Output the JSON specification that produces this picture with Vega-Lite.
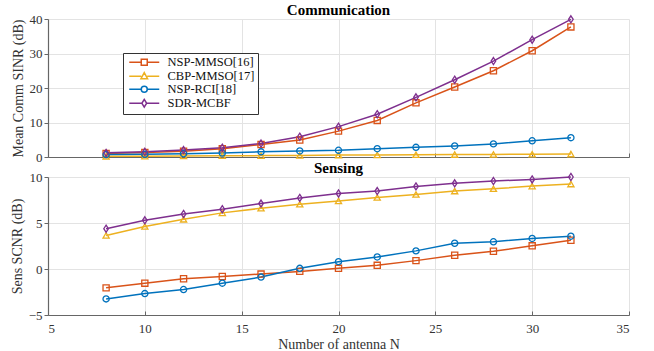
{
  "$schema": "https://vega.github.io/schema/vega-lite/v6.json",
  "padding": {"left": 10, "top": 3, "right": 5, "bottom": 0},
  "spacing": -4,
  "datasets": {
    "comm": [
      {"method": "NSP-MMSO[16]", "N": 8, "v": 1.0}, {"method": "NSP-MMSO[16]", "N": 10, "v": 1.3}, {"method": "NSP-MMSO[16]", "N": 12, "v": 1.7}, {"method": "NSP-MMSO[16]", "N": 14, "v": 2.4}, {"method": "NSP-MMSO[16]", "N": 16, "v": 3.6}, {"method": "NSP-MMSO[16]", "N": 18, "v": 4.9}, {"method": "NSP-MMSO[16]", "N": 20, "v": 7.5}, {"method": "NSP-MMSO[16]", "N": 22, "v": 10.6}, {"method": "NSP-MMSO[16]", "N": 24, "v": 15.7}, {"method": "NSP-MMSO[16]", "N": 26, "v": 20.3}, {"method": "NSP-MMSO[16]", "N": 28, "v": 25.0}, {"method": "NSP-MMSO[16]", "N": 30, "v": 30.8}, {"method": "NSP-MMSO[16]", "N": 32, "v": 37.7},
      {"method": "CBP-MMSO[17]", "N": 8, "v": 0.2}, {"method": "CBP-MMSO[17]", "N": 10, "v": 0.25}, {"method": "CBP-MMSO[17]", "N": 12, "v": 0.3}, {"method": "CBP-MMSO[17]", "N": 14, "v": 0.35}, {"method": "CBP-MMSO[17]", "N": 16, "v": 0.4}, {"method": "CBP-MMSO[17]", "N": 18, "v": 0.45}, {"method": "CBP-MMSO[17]", "N": 20, "v": 0.55}, {"method": "CBP-MMSO[17]", "N": 22, "v": 0.6}, {"method": "CBP-MMSO[17]", "N": 24, "v": 0.65}, {"method": "CBP-MMSO[17]", "N": 26, "v": 0.7}, {"method": "CBP-MMSO[17]", "N": 28, "v": 0.75}, {"method": "CBP-MMSO[17]", "N": 30, "v": 0.8}, {"method": "CBP-MMSO[17]", "N": 32, "v": 0.85},
      {"method": "NSP-RCI[18]", "N": 8, "v": 0.7}, {"method": "NSP-RCI[18]", "N": 10, "v": 0.8}, {"method": "NSP-RCI[18]", "N": 12, "v": 0.95}, {"method": "NSP-RCI[18]", "N": 14, "v": 1.15}, {"method": "NSP-RCI[18]", "N": 16, "v": 1.5}, {"method": "NSP-RCI[18]", "N": 18, "v": 1.75}, {"method": "NSP-RCI[18]", "N": 20, "v": 1.95}, {"method": "NSP-RCI[18]", "N": 22, "v": 2.4}, {"method": "NSP-RCI[18]", "N": 24, "v": 2.8}, {"method": "NSP-RCI[18]", "N": 26, "v": 3.2}, {"method": "NSP-RCI[18]", "N": 28, "v": 3.8}, {"method": "NSP-RCI[18]", "N": 30, "v": 4.7}, {"method": "NSP-RCI[18]", "N": 32, "v": 5.6},
      {"method": "SDR-MCBF", "N": 8, "v": 1.2}, {"method": "SDR-MCBF", "N": 10, "v": 1.5}, {"method": "SDR-MCBF", "N": 12, "v": 2.0}, {"method": "SDR-MCBF", "N": 14, "v": 2.7}, {"method": "SDR-MCBF", "N": 16, "v": 3.9}, {"method": "SDR-MCBF", "N": 18, "v": 5.9}, {"method": "SDR-MCBF", "N": 20, "v": 8.8}, {"method": "SDR-MCBF", "N": 22, "v": 12.4}, {"method": "SDR-MCBF", "N": 24, "v": 17.3}, {"method": "SDR-MCBF", "N": 26, "v": 22.4}, {"method": "SDR-MCBF", "N": 28, "v": 27.8}, {"method": "SDR-MCBF", "N": 30, "v": 34.0}, {"method": "SDR-MCBF", "N": 32, "v": 39.9}
    ],
    "sens": [
      {"method": "NSP-MMSO[16]", "N": 8, "v": -2.05}, {"method": "NSP-MMSO[16]", "N": 10, "v": -1.54}, {"method": "NSP-MMSO[16]", "N": 12, "v": -1.06}, {"method": "NSP-MMSO[16]", "N": 14, "v": -0.81}, {"method": "NSP-MMSO[16]", "N": 16, "v": -0.55}, {"method": "NSP-MMSO[16]", "N": 18, "v": -0.26}, {"method": "NSP-MMSO[16]", "N": 20, "v": 0.07}, {"method": "NSP-MMSO[16]", "N": 22, "v": 0.4}, {"method": "NSP-MMSO[16]", "N": 24, "v": 0.91}, {"method": "NSP-MMSO[16]", "N": 26, "v": 1.49}, {"method": "NSP-MMSO[16]", "N": 28, "v": 1.93}, {"method": "NSP-MMSO[16]", "N": 30, "v": 2.52}, {"method": "NSP-MMSO[16]", "N": 32, "v": 3.13},
      {"method": "CBP-MMSO[17]", "N": 8, "v": 3.65}, {"method": "CBP-MMSO[17]", "N": 10, "v": 4.63}, {"method": "CBP-MMSO[17]", "N": 12, "v": 5.4}, {"method": "CBP-MMSO[17]", "N": 14, "v": 6.1}, {"method": "CBP-MMSO[17]", "N": 16, "v": 6.6}, {"method": "CBP-MMSO[17]", "N": 18, "v": 7.04}, {"method": "CBP-MMSO[17]", "N": 20, "v": 7.4}, {"method": "CBP-MMSO[17]", "N": 22, "v": 7.77}, {"method": "CBP-MMSO[17]", "N": 24, "v": 8.1}, {"method": "CBP-MMSO[17]", "N": 26, "v": 8.47}, {"method": "CBP-MMSO[17]", "N": 28, "v": 8.72}, {"method": "CBP-MMSO[17]", "N": 30, "v": 9.01}, {"method": "CBP-MMSO[17]", "N": 32, "v": 9.23},
      {"method": "NSP-RCI[18]", "N": 8, "v": -3.25}, {"method": "NSP-RCI[18]", "N": 10, "v": -2.67}, {"method": "NSP-RCI[18]", "N": 12, "v": -2.23}, {"method": "NSP-RCI[18]", "N": 14, "v": -1.54}, {"method": "NSP-RCI[18]", "N": 16, "v": -0.88}, {"method": "NSP-RCI[18]", "N": 18, "v": 0.07}, {"method": "NSP-RCI[18]", "N": 20, "v": 0.8}, {"method": "NSP-RCI[18]", "N": 22, "v": 1.31}, {"method": "NSP-RCI[18]", "N": 24, "v": 1.97}, {"method": "NSP-RCI[18]", "N": 26, "v": 2.8}, {"method": "NSP-RCI[18]", "N": 28, "v": 2.96}, {"method": "NSP-RCI[18]", "N": 30, "v": 3.32}, {"method": "NSP-RCI[18]", "N": 32, "v": 3.57},
      {"method": "SDR-MCBF", "N": 8, "v": 4.38}, {"method": "SDR-MCBF", "N": 10, "v": 5.29}, {"method": "SDR-MCBF", "N": 12, "v": 5.98}, {"method": "SDR-MCBF", "N": 14, "v": 6.5}, {"method": "SDR-MCBF", "N": 16, "v": 7.11}, {"method": "SDR-MCBF", "N": 18, "v": 7.73}, {"method": "SDR-MCBF", "N": 20, "v": 8.21}, {"method": "SDR-MCBF", "N": 22, "v": 8.47}, {"method": "SDR-MCBF", "N": 24, "v": 8.98}, {"method": "SDR-MCBF", "N": 26, "v": 9.31}, {"method": "SDR-MCBF", "N": 28, "v": 9.56}, {"method": "SDR-MCBF", "N": 30, "v": 9.74}, {"method": "SDR-MCBF", "N": 32, "v": 10.0}
    ]
  },
  "vconcat": [
    {
      "width": 581,
      "height": 138,
      "title": {"text": "Communication", "offset": -5},
      "data": {"name": "comm"},
      "encoding": {
        "x": {"field": "N", "type": "quantitative", "scale": {"domain": [5, 35], "nice": false},
              "axis": {"values": [5, 10, 15, 20, 25, 30, 35], "labels": false, "title": null, "tickSize": -4}},
        "y": {"field": "v", "type": "quantitative", "scale": {"domain": [0, 40], "nice": false},
              "axis": {"values": [0, 10, 20, 30, 40], "tickCount": 5, "title": "Mean Comm SINR (dB)", "labelOverlap": false}},
        "color": {"field": "method", "type": "nominal",
                  "scale": {"domain": ["NSP-MMSO[16]", "CBP-MMSO[17]", "NSP-RCI[18]", "SDR-MCBF"], "range": ["#D95319", "#EDB120", "#0072BD", "#7E2F8E"]},
                  "legend": null}
      },
      "layer": [
        {
          "mark": {"type": "line", "strokeWidth": 1.5}
        },
        {
          "mark": {"type": "point", "filled": false, "strokeWidth": 1.3, "size": 38, "opacity": 1},
          "encoding": {
            "shape": {"field": "method", "type": "nominal",
                      "scale": {"domain": ["NSP-MMSO[16]", "CBP-MMSO[17]", "NSP-RCI[18]", "SDR-MCBF"], "range": ["square", "triangle-up", "circle", "M0,-1.15L0.75,0L0,1.15L-0.75,0Z"]},
                      "legend": null}
          }
        },
        {
          "transform": [{"filter": "datum.N < 0"}],
          "mark": {"type": "point", "filled": false, "strokeWidth": 1.5},
          "encoding": {
            "color": {"field": "method", "type": "nominal",
                      "legend": {"title": null, "orient": "none", "legendX": 75, "legendY": 34,
                                 "symbolSize": 36, "labelOffset": 29, "labelFontSize": 12.5, "labelFont": "Liberation Serif", "labelColor": "#111",
                                 "strokeColor": "#333", "fillColor": "white", "padding": 3, "rowPadding": 0, "symbolStrokeWidth": 1.5, "symbolOpacity": 1}},
            "shape": {"field": "method", "type": "nominal",
                      "scale": {"domain": ["NSP-MMSO[16]", "CBP-MMSO[17]", "NSP-RCI[18]", "SDR-MCBF"],
                                "range": ["M-1,0H3M5,0H9M3,-1H5V1H3Z", "M-1,0H3M5,0H9M4,-1.2L5.1,0.8L2.9,0.8Z", "M-1,0H3M5,0H9M5,0A1,1 0 1,1 3,0A1,1 0 1,1 5,0", "M-1,0H3.3M4.7,0H9M4,-1.3L4.8,0L4,1.3L3.2,0Z"]},
                      "legend": {"title": null, "orient": "none", "legendX": 75, "legendY": 34,
                                 "symbolSize": 36, "labelOffset": 29, "labelFontSize": 12.5, "labelFont": "Liberation Serif", "labelColor": "#111",
                                 "strokeColor": "#333", "fillColor": "white", "padding": 3, "rowPadding": 0, "symbolStrokeWidth": 1.5, "symbolOpacity": 1}}
          }
        }
      ],
      "resolve": {"scale": {"shape": "independent"}, "legend": {"shape": "independent", "color": "independent"}}
    },
    {
      "width": 581,
      "height": 138,
      "title": {"text": "Sensing", "offset": -5},
      "data": {"name": "sens"},
      "encoding": {
        "x": {"field": "N", "type": "quantitative", "scale": {"domain": [5, 35], "nice": false},
              "axis": {"values": [5, 10, 15, 20, 25, 30, 35], "title": "Number of antenna N", "tickSize": -4, "labelPadding": 11, "titlePadding": 2, "labelOverlap": false}},
        "y": {"field": "v", "type": "quantitative", "scale": {"domain": [-5, 10], "nice": false},
              "axis": {"values": [-5, 0, 5, 10], "title": "Sens SCNR (dB)", "labelOverlap": false}},
        "color": {"field": "method", "type": "nominal",
                  "scale": {"domain": ["NSP-MMSO[16]", "CBP-MMSO[17]", "NSP-RCI[18]", "SDR-MCBF"], "range": ["#D95319", "#EDB120", "#0072BD", "#7E2F8E"]},
                  "legend": null}
      },
      "layer": [
        {
          "mark": {"type": "line", "strokeWidth": 1.5}
        },
        {
          "mark": {"type": "point", "filled": false, "strokeWidth": 1.3, "size": 38, "opacity": 1},
          "encoding": {
            "shape": {"field": "method", "type": "nominal",
                      "scale": {"domain": ["NSP-MMSO[16]", "CBP-MMSO[17]", "NSP-RCI[18]", "SDR-MCBF"], "range": ["square", "triangle-up", "circle", "M0,-1.15L0.75,0L0,1.15L-0.75,0Z"]},
                      "legend": null}
          }
        }
      ]
    }
  ],
  "config": {
    "font": "Liberation Serif",
    "view": {"stroke": null},
    "title": {"font": "Liberation Serif", "fontSize": 15, "fontWeight": "bold", "color": "#000", "anchor": "middle"},
    "axis": {
      "labelFont": "Liberation Serif", "labelFontSize": 13, "labelColor": "#333",
      "titleFont": "Liberation Serif", "titleFontSize": 14, "titleFontWeight": "normal", "titleColor": "#333",
      "gridColor": "#e3e3e3", "gridWidth": 1,
      "domainColor": "#666", "domainWidth": 1.2, "tickColor": "#666", "tickSize": 4
    }
  }
}
